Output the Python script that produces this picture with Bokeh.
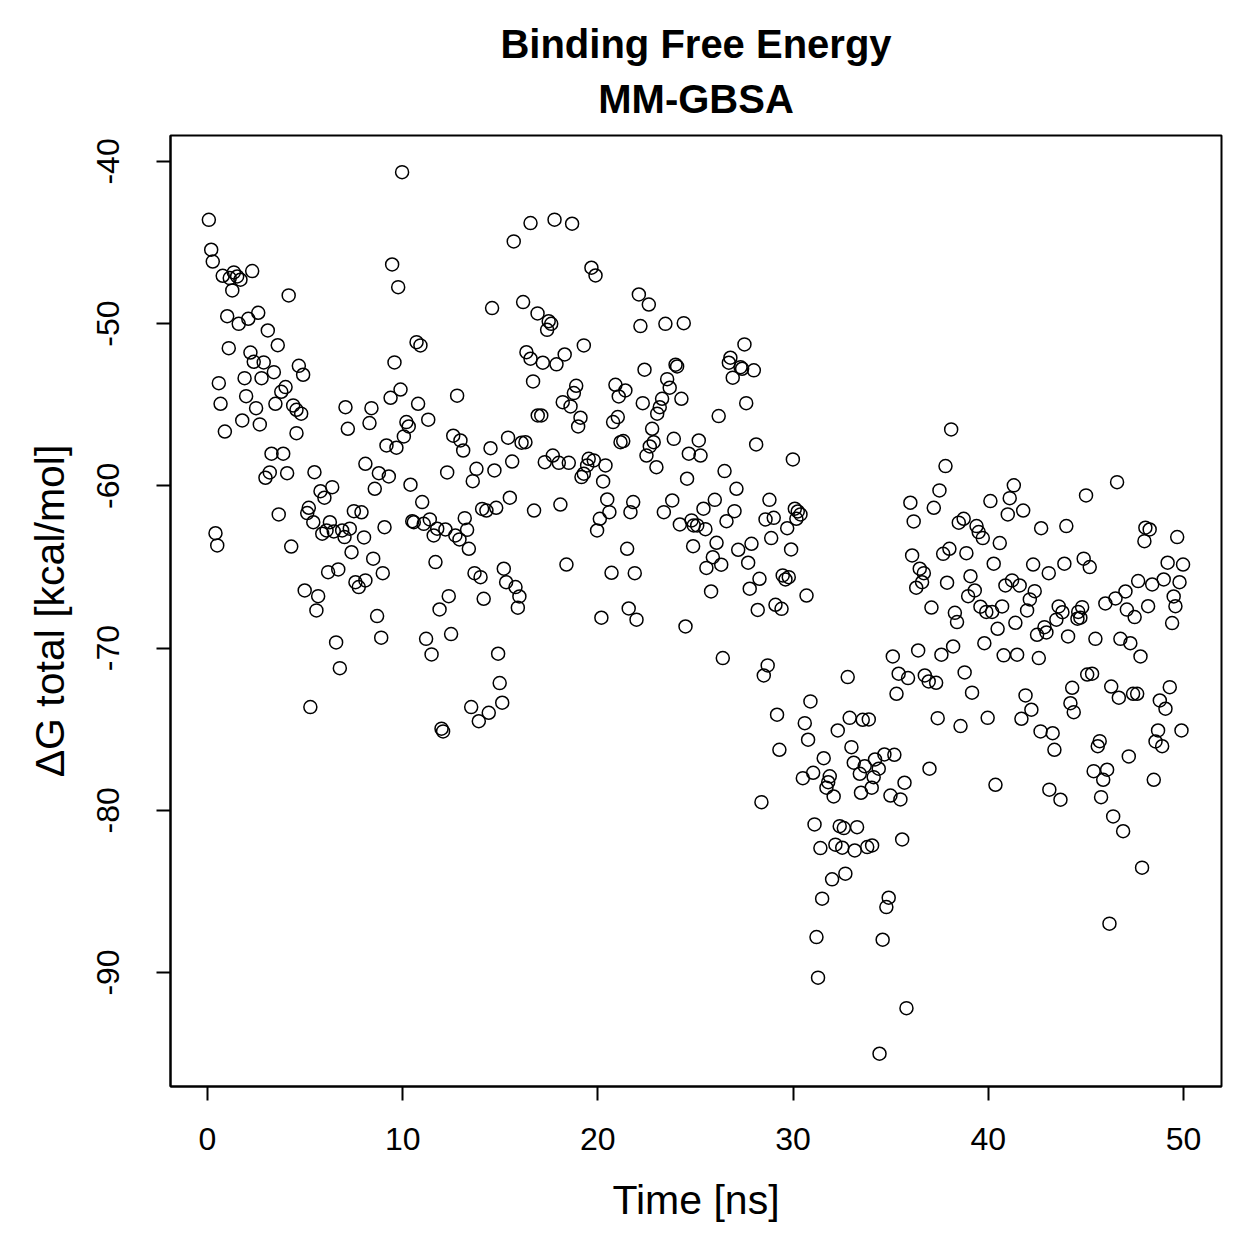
from bokeh.plotting import figure
from bokeh.models import Title
from bokeh.embed import file_html
from bokeh.resources import INLINE

title_lines = ["Binding Free Energy", "MM-GBSA"]
x_label = "Time [ns]"
y_label = "ΔG total [kcal/mol]"
x_ticks = [0, 10, 20, 30, 40, 50]
y_ticks = [-90, -80, -70, -60, -50, -40]

time_ns = [
    0.07, 0.19, 0.27, 0.78, 1.14, 1.35, 1.52, 1.69, 1.27, 2.29, 4.16, 1.01, 1.60, 2.09, 2.60, 3.09,
    3.60, 1.09, 2.20, 2.37, 2.88, 3.40, 1.90, 2.77, 4.68, 4.90, 0.58, 0.67, 1.98, 2.49, 3.48, 4.00,
    3.78, 4.39, 4.56, 4.80, 1.78, 2.68, 0.89, 4.56, 7.07, 7.19, 3.28, 3.88, 3.19, 2.97, 4.08, 5.48,
    6.39, 5.79, 5.99, 5.19, 5.11, 5.42, 3.65, 7.50, 7.89, 6.27, 6.47, 6.90, 7.02, 7.29, 5.88, 6.10,
    7.38, 8.02, 0.41, 0.50, 4.29, 6.18, 6.70, 7.58, 7.75, 8.09, 4.98, 5.67, 5.58, 6.59, 6.78, 5.27,
    9.97, 16.55, 15.69, 9.46, 9.77, 14.58, 16.17, 16.91, 10.71, 10.91, 9.58, 16.34, 16.55, 16.68,
    9.89, 9.38, 8.40, 8.30, 10.79, 12.79, 10.19, 10.31, 10.06, 11.31, 16.92, 17.10, 9.17, 9.68,
    12.59, 12.96, 13.10, 14.50, 15.40, 16.09, 16.29, 8.09, 8.78, 9.29, 8.57, 10.40, 12.28, 13.78,
    13.59, 14.70, 15.61, 11.00, 9.07, 10.49, 10.57, 11.39, 11.77, 11.08, 11.59, 12.19, 12.70, 12.91,
    13.18, 13.30, 13.39, 14.07, 14.29, 14.79, 15.49, 16.73, 8.49, 8.98, 11.68, 13.68, 13.99, 15.18,
    15.30, 15.78, 15.98, 12.36, 14.15, 8.69, 8.90, 11.89, 15.90, 11.20, 11.48, 12.48, 14.89, 14.97,
    15.10, 13.51, 14.41, 13.90, 11.99, 12.07,
    17.78, 18.68, 19.67, 19.88, 22.10, 22.61, 22.18, 23.46, 24.40, 17.48, 17.61, 17.40, 19.28, 17.18,
    17.88, 18.30, 22.39, 23.98, 24.06, 23.55, 23.68, 24.28, 18.89, 18.77, 18.20, 18.60, 19.11, 18.99,
    20.90, 21.41, 21.07, 22.30, 23.29, 23.17, 23.04, 20.78, 21.02, 21.16, 21.30, 22.78, 22.86, 22.66,
    22.49, 23.00, 23.89, 25.17, 24.66, 25.26, 17.28, 17.69, 18.00, 18.51, 19.53, 19.79, 19.45, 19.28,
    19.16, 20.39, 20.27, 24.57, 20.48, 20.59, 20.10, 19.96, 21.81, 21.67, 23.81, 23.38, 24.20, 24.80,
    24.91, 25.09, 25.41, 25.51, 18.08, 21.50, 24.88, 18.39, 20.70, 21.89, 25.56, 21.58, 20.18, 21.98,
    24.49,
    27.51, 26.79, 26.71, 27.31, 27.39, 26.91, 27.99, 27.60, 26.19, 28.11, 29.99, 26.49, 27.10, 25.99,
    27.00, 26.59, 28.79, 28.59, 29.01, 30.09, 30.24, 30.38, 30.17, 29.70, 26.08, 27.19, 27.87, 28.88,
    29.90, 25.89, 26.32, 27.70, 28.28, 27.78, 29.47, 29.61, 29.78, 25.80, 30.69, 28.19, 29.10, 29.41,
    26.40, 28.70, 28.50, 32.80, 30.89, 29.18, 30.60, 30.77, 29.30, 28.38, 32.90, 33.57, 33.88, 32.29,
    32.99, 31.57, 33.11, 33.67, 33.42, 34.20, 34.13, 31.03, 30.50, 31.88, 31.80, 31.71, 32.08, 33.48,
    34.03, 31.10, 32.39, 32.60, 33.28, 31.40, 32.17, 32.52, 33.16, 33.80, 34.05, 32.68, 32.00, 31.49,
    31.20, 31.28, 34.43,
    38.10, 37.81, 37.50, 36.01, 37.21, 36.18, 41.31, 41.10, 41.00, 41.79, 40.11, 38.74, 38.49, 39.40,
    39.51, 39.72, 40.59, 42.71, 36.10, 38.01, 37.69, 38.88, 40.28, 42.30, 36.49, 36.70, 36.61, 36.31,
    37.89, 39.09, 39.31, 38.97, 41.22, 40.88, 41.61, 42.38, 42.13, 37.09, 38.29, 38.40, 39.60, 39.90,
    40.20, 40.71, 41.99, 41.39, 40.48, 39.80, 42.50, 42.88, 42.98, 35.11, 36.41, 37.60, 38.20, 35.41,
    35.89, 36.75, 36.95, 37.33, 38.79, 35.30, 39.17, 40.79, 41.48, 42.59, 41.91, 42.21, 41.70, 42.68,
    37.41, 38.58, 39.97, 34.68, 35.19, 34.39, 35.71, 34.99, 35.50, 36.99, 40.37, 43.13, 35.59, 34.90,
    34.78, 34.59, 35.81,
    46.60, 45.01, 44.00, 48.05, 48.27, 48.00, 49.68, 43.90, 43.10, 44.89, 45.20, 49.19, 49.98, 47.68,
    48.40, 48.99, 49.80, 49.50, 46.00, 46.52, 47.03, 43.61, 43.80, 44.81, 44.61, 47.10, 48.19, 49.59,
    43.49, 44.57, 44.72, 47.50, 49.42, 44.09, 45.49, 46.77, 47.28, 47.80, 45.07, 45.32, 44.30, 44.21,
    44.38, 46.30, 46.69, 47.42, 47.63, 49.30, 48.79, 49.08, 43.30, 43.39, 45.71, 45.61, 47.20, 48.70,
    49.90, 48.57, 48.91, 45.40, 46.09, 45.89, 48.48, 43.70, 45.78, 46.40, 46.91, 47.88, 46.21,
]

dg_total = [
    -43.60, -45.44, -46.17, -47.05, -47.19, -46.84, -47.09, -47.29, -47.95, -46.76, -48.26, -49.54, -50.01, -49.70, -49.33, -50.42,
    -51.33, -51.51, -51.78, -52.35, -52.39, -52.99, -53.36, -53.36, -52.60, -53.15, -53.67, -54.94, -54.47, -55.21, -54.94, -53.91,
    -54.20, -55.04, -55.31, -55.55, -55.97, -56.21, -56.65, -56.75, -55.15, -56.48, -58.02, -58.02, -59.17, -59.50, -59.22, -59.16,
    -60.08, -60.33, -60.73, -61.35, -61.68, -62.24, -61.76, -61.56, -61.63, -62.24, -62.81, -62.75, -63.16, -62.64, -62.95, -62.75,
    -64.09, -63.18, -62.92, -63.67, -63.74, -65.32, -65.15, -65.94, -66.24, -65.83, -66.45, -66.80, -67.68, -69.65, -71.24, -73.64,
    -40.66, -43.80, -44.93, -46.35, -47.75, -49.04, -48.67, -49.37, -51.14, -51.34, -52.39, -51.76, -52.16, -53.56,
    -54.06, -54.57, -55.21, -56.13, -54.94, -54.44, -56.07, -56.34, -56.95, -55.92, -55.66, -55.66, -57.51, -57.65,
    -56.91, -57.20, -57.82, -57.68, -57.03, -57.34, -57.31, -58.64, -59.22, -59.42, -60.18, -59.93, -59.17, -58.95,
    -59.71, -59.05, -58.50, -61.00, -62.55, -62.18, -62.24, -62.07, -62.64, -62.34, -63.06, -62.69, -63.06, -63.30,
    -61.99, -62.71, -63.88, -61.42, -61.52, -61.35, -60.73, -61.52, -64.49, -65.38, -64.70, -65.38, -65.63, -65.11,
    -65.94, -66.24, -66.82, -66.80, -66.96, -68.03, -69.36, -67.62, -67.51, -69.43, -70.39, -69.14, -70.35, -72.16,
    -73.37, -73.64, -73.99, -74.51, -74.97, -75.14,
    -43.59, -43.84, -46.55, -47.03, -48.20, -48.82, -50.15, -50.01, -49.97, -49.85, -50.01, -50.38, -51.34, -52.41,
    -52.51, -51.90, -52.84, -52.53, -52.64, -53.42, -53.95, -54.63, -53.83, -54.28, -54.84, -55.10, -55.80, -56.34,
    -53.77, -54.12, -54.49, -54.90, -54.63, -55.15, -55.55, -56.07, -55.76, -57.31, -57.24, -56.48, -57.31, -57.57,
    -58.13, -58.85, -57.10, -57.20, -58.02, -58.13, -58.54, -58.13, -58.58, -58.58, -58.33, -58.43, -58.74, -59.25,
    -59.46, -58.74, -59.73, -59.56, -60.84, -61.62, -62.03, -62.75, -61.00, -61.62, -60.90, -61.62, -62.38, -62.13,
    -62.44, -62.44, -61.41, -62.67, -61.15, -63.88, -63.72, -64.85, -65.36, -65.38, -65.06, -67.56, -68.13, -68.25,
    -68.67,
    -51.28, -52.10, -52.41, -52.68, -52.78, -53.33, -52.88, -54.90, -55.70, -57.45, -58.37, -59.09, -60.18, -60.86,
    -61.56, -62.18, -60.86, -62.07, -61.97, -61.41, -61.58, -61.76, -62.03, -62.61, -63.51, -63.94, -63.57, -63.22,
    -63.92, -64.40, -64.86, -64.74, -65.73, -66.34, -65.52, -65.77, -65.63, -66.51, -66.76, -67.65, -67.33, -67.58,
    -70.62, -71.07, -71.69, -71.79, -73.29, -74.11, -74.63, -75.65, -76.27, -79.50, -74.30, -74.42, -74.40, -75.08,
    -76.11, -76.79, -77.07, -77.28, -77.75, -76.87, -77.96, -77.69, -78.02, -77.91, -78.27, -78.61, -79.15, -78.92,
    -78.61, -80.87, -80.98, -81.10, -81.04, -82.33, -82.12, -82.31, -82.48, -82.27, -82.17, -83.91, -84.26, -85.45,
    -87.82, -90.32, -95.01,
    -56.52, -58.78, -60.28, -61.04, -61.35, -62.19, -59.97, -60.76, -61.76, -61.52, -60.94, -62.03, -62.27, -62.48,
    -62.85, -63.22, -63.53, -62.61, -64.29, -63.88, -64.19, -64.15, -64.80, -64.85, -65.11, -65.38, -65.94, -66.28,
    -65.97, -65.57, -66.45, -66.80, -65.83, -66.14, -66.14, -66.49, -67.00, -67.50, -67.83, -68.40, -67.45, -67.77,
    -67.77, -67.43, -67.68, -68.44, -68.81, -69.70, -69.18, -68.71, -69.04, -70.52, -70.15, -70.41, -69.90, -71.58,
    -71.85, -71.69, -72.06, -72.14, -71.50, -72.82, -72.75, -70.45, -70.41, -70.62, -72.92, -73.80, -74.36, -75.14,
    -74.32, -74.81, -74.30, -76.56, -76.58, -77.44, -78.30, -79.09, -79.33, -77.44, -78.43, -78.73, -81.80, -85.39,
    -85.97, -87.98, -92.20,
    -59.77, -60.59, -62.48, -62.58, -62.69, -63.41, -63.16, -64.80, -65.38, -64.49, -65.01, -64.74, -64.85, -65.87,
    -66.08, -65.77, -65.94, -66.82, -67.25, -66.94, -66.51, -67.43, -67.79, -67.48, -67.77, -67.63, -67.42, -67.42,
    -68.25, -68.19, -68.13, -68.09, -68.46, -69.28, -69.43, -69.43, -69.70, -70.52, -71.63, -71.58, -72.45, -73.40,
    -73.95, -72.37, -73.06, -72.82, -72.82, -72.41, -73.23, -73.74, -75.25, -76.27, -75.74, -76.05, -76.68, -75.08,
    -75.08, -75.76, -76.05, -77.59, -77.50, -78.12, -78.12, -79.35, -79.19, -80.38, -81.29, -83.54, -86.99,
]

FONT = "Liberation Sans"

p = figure(
    width=1259, height=1259,
    x_range=(-1.895, 51.95), y_range=(-97.03, -38.40),
    output_backend="svg", toolbar_location=None,
    min_border_left=170, min_border_right=38, min_border_top=135, min_border_bottom=173,
    x_axis_label=x_label, y_axis_label=y_label,
)
p.background_fill_color = "white"
p.border_fill_color = "white"
p.outline_line_color = "black"
p.outline_line_width = 2
p.xgrid.visible = False
p.ygrid.visible = False

p.scatter(time_ns, dg_total, marker="circle", size=13, fill_color=None,
          line_color="black", line_width=1.5)

for ax, ticks in ((p.xaxis, x_ticks), (p.yaxis, y_ticks)):
    ax.ticker = ticks
    ax.major_label_overrides = {t: str(t) for t in ticks}
    ax.minor_tick_line_color = None
    ax.major_tick_in = 0
    ax.major_tick_out = 14
    ax.major_tick_line_width = 2
    ax.axis_line_width = 2
    ax.major_label_text_font = FONT
    ax.major_label_text_font_size = "32px"
    ax.major_label_text_color = "black"
    ax.axis_label_text_font = FONT
    ax.axis_label_text_font_size = "41px"
    ax.axis_label_text_font_style = "normal"
    ax.axis_label_text_color = "black"

p.xaxis.major_label_standoff = 27
p.xaxis.axis_label_standoff = 24
p.yaxis.major_label_orientation = "vertical"
p.yaxis.major_label_standoff = 37
p.yaxis.axis_label_standoff = 22

p.title.visible = False
p.add_layout(Title(text=title_lines[1], align="center", text_font=FONT,
                   text_font_size="40px", text_font_style="bold", text_color="black",
                   standoff=30), "above")
p.add_layout(Title(text=title_lines[0], align="center", text_font=FONT,
                   text_font_size="40px", text_font_style="bold", text_color="black",
                   standoff=-13), "above")

open("out.html", "w").write(file_html(p, INLINE))
